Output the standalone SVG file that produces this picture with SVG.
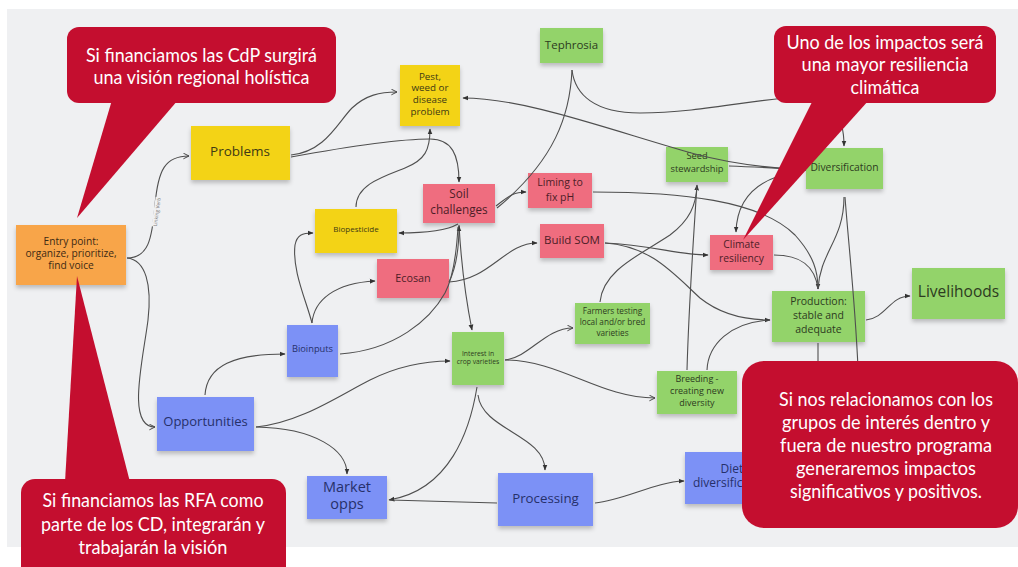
<svg xmlns="http://www.w3.org/2000/svg" width="1018" height="567" viewBox="0 0 1018 567">
<style>
.n{font-family:"Open Sans","Liberation Sans",sans-serif;text-anchor:middle}
.y{fill:#f3d313}.p{fill:#ef6d7f}.g{fill:#93d36a}.b{fill:#7c91f6}.o{fill:#f8a548}
.ty{fill:#3e3a14}.tp{fill:#4d1d27}.tg{fill:#2d3b21}.tb{fill:#26306a}.to{fill:#3d2a14}
.c{fill:none;stroke:#4f4f4f;stroke-width:1.1}
.co{fill:#c40e2f}
.ct{font-family:Lato,"Open Sans","Liberation Sans",sans-serif;font-size:19px;fill:#ffffff;text-anchor:middle}
</style>
<defs>
<filter id="sh" x="-10%" y="-10%" width="120%" height="130%">
<feDropShadow dx="0" dy="3" stdDeviation="2" flood-color="#000" flood-opacity="0.22"/>
</filter>
<marker id="af" viewBox="0 0 10 10" refX="9" refY="5" markerWidth="6" markerHeight="6" markerUnits="userSpaceOnUse" orient="auto">
<path d="M0,1 L10,5 L0,9 z" fill="#333"/>
</marker>
<marker id="ao" viewBox="0 0 10 10" refX="9" refY="5" markerWidth="7" markerHeight="7" markerUnits="userSpaceOnUse" orient="auto">
<path d="M1,1 L9,5 L1,9" fill="none" stroke="#444" stroke-width="1.4"/>
</marker>
</defs>
<rect x="0" y="0" width="1018" height="567" fill="#ffffff"/>
<rect x="7" y="9" width="1011" height="538" fill="#eff0f2"/>

<g id="entry"><rect class="o" x="16" y="225" width="110" height="60" filter="url(#sh)"/>
<text class="n to" font-size="10.2"><tspan x="71" y="244.5">Entry point:</tspan><tspan x="71" y="256.5">organize, prioritize,</tspan><tspan x="71" y="268.5">find voice</tspan></text></g>
<g id="problems"><rect class="y" x="191" y="126" width="99" height="54" filter="url(#sh)"/>
<text class="n ty" font-size="13.5" x="240" y="156">Problems</text></g>
<g id="pest"><rect class="y" x="400" y="65" width="60" height="61" filter="url(#sh)"/>
<text class="n ty" font-size="9.8"><tspan x="430" y="79.5">Pest,</tspan><tspan x="430" y="91.2">weed or</tspan><tspan x="430" y="102.9">disease</tspan><tspan x="430" y="114.6">problem</tspan></text></g>
<g id="biopesticide"><rect class="y" x="315" y="209" width="82" height="44" filter="url(#sh)"/>
<text class="n ty" font-size="8" x="356" y="232">Biopesticide</text></g>
<g id="soil"><rect class="p" x="423" y="184" width="72" height="39" filter="url(#sh)"/>
<text class="n tp" font-size="11.7"><tspan x="459" y="198">Soil</tspan><tspan x="459" y="214">challenges</tspan></text></g>
<g id="ecosan"><rect class="p" x="377" y="259" width="72" height="39" filter="url(#sh)"/>
<text class="n tp" font-size="10.8" x="413" y="282">Ecosan</text></g>
<g id="tephrosia"><rect class="g" x="540" y="28" width="63" height="35" filter="url(#sh)"/>
<text class="n tg" font-size="11.5" x="571.5" y="49">Tephrosia</text></g>
<g id="liming"><rect class="p" x="528" y="173" width="64" height="35" filter="url(#sh)"/>
<text class="n tp" font-size="10.5"><tspan x="560" y="186">Liming to</tspan><tspan x="560" y="201">fix pH</tspan></text></g>
<g id="buildsom"><rect class="p" x="540" y="224" width="64" height="34" filter="url(#sh)"/>
<text class="n tp" font-size="11.5" x="572" y="244">Build SOM</text></g>
<g id="seed"><rect class="g" x="666" y="147" width="62" height="35" filter="url(#sh)"/>
<text class="n tg" font-size="9.3"><tspan x="697" y="159">Seed</tspan><tspan x="697" y="172">stewardship</tspan></text></g>
<g id="diversification"><rect class="g" x="806" y="148" width="77" height="41" filter="url(#sh)"/>
<text class="n tg" font-size="10.3" x="844.5" y="171">Diversification</text></g>
<g id="climate"><rect class="p" x="710" y="235" width="63" height="35" filter="url(#sh)"/>
<text class="n tp" font-size="10.3"><tspan x="741.5" y="248">Climate</tspan><tspan x="741.5" y="262">resiliency</tspan></text></g>
<g id="livelihoods"><rect class="g" x="912" y="268" width="93" height="51" filter="url(#sh)"/>
<text class="n tg" font-size="15.5" x="958.5" y="296.5">Livelihoods</text></g>
<g id="production"><rect class="g" x="772" y="291" width="93" height="51" filter="url(#sh)"/>
<text class="n tg" font-size="10.5"><tspan x="818.5" y="305">Production:</tspan><tspan x="818.5" y="319">stable and</tspan><tspan x="818.5" y="333">adequate</tspan></text></g>
<g id="farmers"><rect class="g" x="575" y="303" width="75" height="41" filter="url(#sh)"/>
<text class="n tg" font-size="8.2"><tspan x="612.5" y="314">Farmers testing</tspan><tspan x="612.5" y="325.2">local and/or bred</tspan><tspan x="612.5" y="336.4">varieties</tspan></text></g>
<g id="breeding"><rect class="g" x="657" y="371" width="80" height="43" filter="url(#sh)"/>
<text class="n tg" font-size="9"><tspan x="697" y="382">Breeding -</tspan><tspan x="697" y="394">creating new</tspan><tspan x="697" y="406">diversity</tspan></text></g>
<g id="interest"><rect class="g" x="452" y="332" width="52" height="53" filter="url(#sh)"/>
<text class="n tg" font-size="6.8"><tspan x="478" y="355.5">Interest in</tspan><tspan x="478" y="363.5">crop varieties</tspan></text></g>
<g id="bioinputs"><rect class="b" x="287" y="325" width="51" height="52" filter="url(#sh)"/>
<text class="n tb" font-size="9.3" x="312.5" y="352">Bioinputs</text></g>
<g id="opportunities"><rect class="b" x="157" y="397" width="97" height="54" filter="url(#sh)"/>
<text class="n tb" font-size="13" x="205.5" y="426">Opportunities</text></g>
<g id="market"><rect class="b" x="307" y="476" width="80" height="43" filter="url(#sh)"/>
<text class="n tb" font-size="14.5"><tspan x="347" y="492">Market</tspan><tspan x="347" y="509">opps</tspan></text></g>
<g id="processing"><rect class="b" x="498" y="473" width="95" height="53" filter="url(#sh)"/>
<text class="n tb" font-size="13.3" x="545.5" y="503">Processing</text></g>
<g id="diet"><rect class="b" x="685" y="452" width="95" height="52" filter="url(#sh)"/>
<text class="n tb" font-size="12"><tspan x="732" y="473">Diet</tspan><tspan x="732" y="487">diversification</tspan></text></g>

<g id="connectors">
<path class="c" d="M127,258 C148,258 152,240 155,205 C158,170 165,156 189,156" marker-end="url(#ao)"/>
<path class="c" d="M127,258 C146,260 152,285 148,320 C143,360 126,427 155,427" marker-end="url(#ao)"/>
<path class="c" d="M291,155 C325,152 338,122 352,108 C366,95 380,92 397,92" marker-end="url(#ao)"/>
<path class="c" d="M291,157 C340,148 400,139 430,139 C452,139 459,155 459,182" marker-end="url(#af)"/>
<path class="c" d="M356,207 C356,185 382,177 405,168 C425,160 430,150 430,129" marker-end="url(#af)"/>
<path class="c" d="M458,224 C446,231 420,233 399,233" marker-end="url(#af)"/>
<path class="c" d="M496,206 C508,197 512,192 526,192" marker-end="url(#af)"/>
<path class="c" d="M572,70 C570,115 555,160 497,208"/>
<path class="c" d="M572,70 C575,95 595,113 640,113 C700,113 760,98 800,97 C832,97 844,115 844,146" marker-end="url(#af)"/>
<path class="c" d="M806,170 C765,168 725,162 695,154 C610,130 525,98 463,98" marker-end="url(#af)"/>
<path class="c" d="M729,166 C760,167 790,169 806,170"/>
<path class="c" d="M795,172 C762,178 737,195 736,232" marker-end="url(#af)"/>
<path class="c" d="M593,192 C680,192 760,200 795,235 C814,256 818,272 818,289" marker-end="url(#af)"/>
<path class="c" d="M605,243 C650,245 680,255 708,255" marker-end="url(#af)"/>
<path class="c" d="M605,243 C650,246 672,272 700,298 C720,314 745,320 770,320" marker-end="url(#af)"/>
<path class="c" d="M774,255 C800,255 815,265 818,289"/>
<path class="c" d="M844,197 C844,240 820,252 818,289"/>
<path class="c" d="M845,197 C849,250 855,300 858,368"/>
<path class="c" d="M818,343 L818,368"/>
<path class="c" d="M866,320 C886,318 890,296 910,296" marker-end="url(#af)"/>
<path class="c" d="M687,370 C689,300 694,230 697,185" marker-end="url(#af)"/>
<path class="c" d="M600,302 C603,270 640,255 670,235 C690,220 696,205 697,186"/>
<path class="c" d="M707,370 C708,345 730,322 770,320"/>
<path class="c" d="M505,360 C530,357 545,328 573,328" marker-end="url(#ao)"/>
<path class="c" d="M505,360 C560,360 600,398 655,398" marker-end="url(#ao)"/>
<path class="c" d="M459,225 C461,260 465,295 472,330" marker-end="url(#af)"/>
<path class="c" d="M449,282 C456,268 459,250 459,226" marker-end="url(#af)"/>
<path class="c" d="M340,354 C395,350 430,320 445,293 C452,280 456,262 458,227"/>
<path class="c" d="M449,282 C490,280 505,243 537,243" marker-end="url(#af)"/>
<path class="c" d="M312,323 C306,300 292,270 295,245 C297,235 302,233 313,233" marker-end="url(#af)"/>
<path class="c" d="M312,323 C314,300 335,283 375,281" marker-end="url(#af)"/>
<path class="c" d="M205,395 C207,365 235,354 285,354" marker-end="url(#af)"/>
<path class="c" d="M256,427 C300,423 340,395 370,380 C400,365 425,361 450,361" marker-end="url(#af)"/>
<path class="c" d="M256,427 C315,428 347,450 347,474" marker-end="url(#af)"/>
<path class="c" d="M477,387 C470,430 450,490 389,500" marker-end="url(#af)"/>
<path class="c" d="M497,503 L390,500"/>
<path class="c" d="M478,395 C482,430 545,435 545,470" marker-end="url(#af)"/>
<path class="c" d="M595,503 C625,500 655,482 684,481" marker-end="url(#af)"/>
<g transform="translate(157,212) rotate(-82)">
<rect x="-15" y="-3.5" width="30" height="6" fill="#eff0f2"/>
<text x="0" y="1.8" font-family="'Open Sans',sans-serif" font-size="5" fill="#777" text-anchor="middle">Linking Verb</text>
</g>
</g>

<g id="callout-top-left">
<rect class="co" x="67" y="27" width="269" height="76" rx="12"/>
<polygon class="co" points="112,100 178,100 77,218"/>
<text class="ct"><tspan x="201.5" y="62" textLength="231" lengthAdjust="spacingAndGlyphs">Si financiamos las CdP surgirá</tspan><tspan x="201.5" y="84" textLength="216" lengthAdjust="spacingAndGlyphs">una visión regional holística</tspan></text>
</g>
<g id="callout-top-right">
<rect class="co" x="774" y="26" width="222" height="77" rx="12"/>
<polygon class="co" points="813,100 869,100 743,240"/>
<text class="ct"><tspan x="885" y="49" textLength="197" lengthAdjust="spacingAndGlyphs">Uno de los impactos será</tspan><tspan x="885" y="71" textLength="167" lengthAdjust="spacingAndGlyphs">una mayor resiliencia</tspan><tspan x="885" y="94" textLength="69" lengthAdjust="spacingAndGlyphs">climática</tspan></text>
</g>
<g id="callout-bottom-left">
<rect class="co" x="21" y="479" width="265" height="110" rx="14"/>
<polygon class="co" points="65,482 130,482 77,276"/>
<text class="ct"><tspan x="153" y="507" textLength="221" lengthAdjust="spacingAndGlyphs">Si financiamos las RFA como</tspan><tspan x="153" y="531" textLength="224" lengthAdjust="spacingAndGlyphs">parte de los CD, integrarán y</tspan><tspan x="153" y="554" textLength="149" lengthAdjust="spacingAndGlyphs">trabajarán la visión</tspan></text>
</g>
<g id="callout-right">
<rect class="co" x="742" y="361" width="276" height="167" rx="22"/>
<text class="ct"><tspan x="886" y="406" textLength="214" lengthAdjust="spacingAndGlyphs">Si nos relacionamos con los</tspan><tspan x="886" y="429" textLength="208" lengthAdjust="spacingAndGlyphs">grupos de interés dentro y</tspan><tspan x="886" y="452" textLength="212" lengthAdjust="spacingAndGlyphs">fuera de nuestro programa</tspan><tspan x="886" y="475" textLength="180" lengthAdjust="spacingAndGlyphs">generaremos impactos</tspan><tspan x="886" y="498" textLength="192" lengthAdjust="spacingAndGlyphs">significativos y positivos.</tspan></text>
</g>
</svg>
